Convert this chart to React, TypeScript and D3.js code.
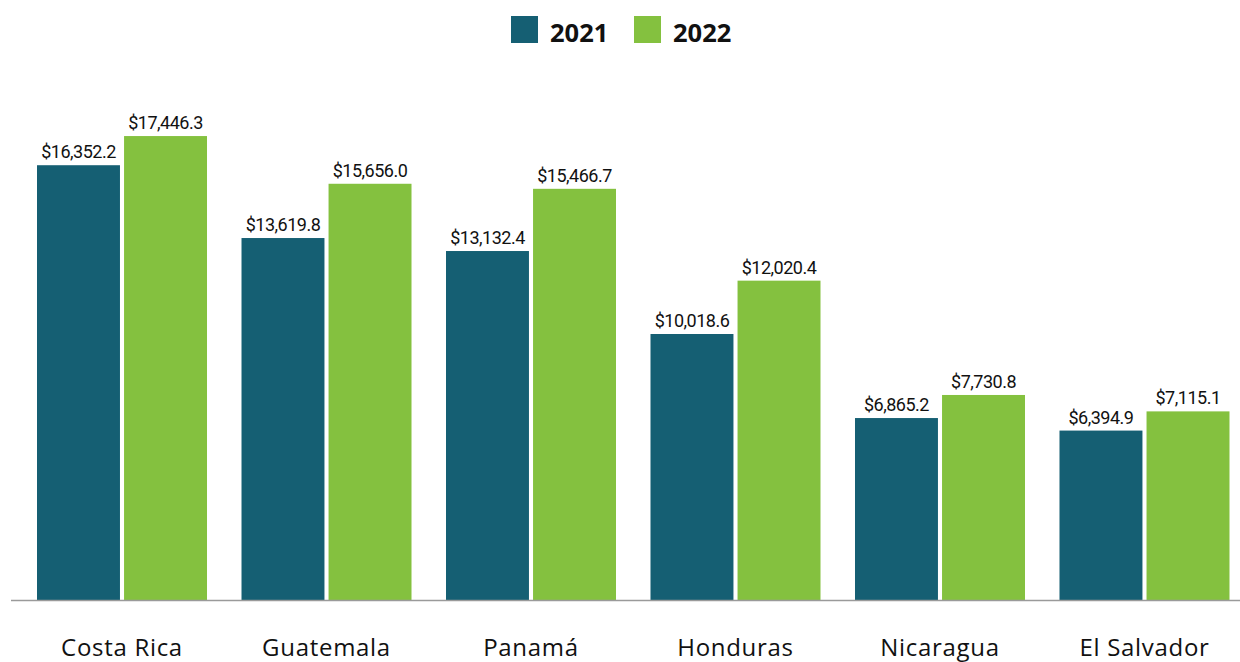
import React from "react";
import * as d3 from "d3";

const categories = ["Costa Rica", "Guatemala", "Panamá", "Honduras", "Nicaragua", "El Salvador"];
const seriesNames = ["2021", "2022"];
const values2021 = [16352.2, 13619.8, 13132.4, 10018.6, 6865.2, 6394.9];
const values2022 = [17446.3, 15656.0, 15466.7, 12020.4, 7730.8, 7115.1];
const colors = ["#155f73", "#84c13f"];

const W = 1240;
const H = 662;

export default function App() {
  const series = [values2021, values2022];
  const x0 = d3.scaleBand<string>().domain(categories).range([19.75, 1246.75]).paddingInner(0.1687).paddingOuter(0.0844);
  const x1 = d3.scaleBand<string>().domain(seriesNames).range([0, x0.bandwidth()]).paddingInner(0.047);
  const y = d3.scaleLinear().domain([0, 20000]).range([601, 68]);
  const fmt = (v: number) => "$" + d3.format(",.1f")(v);

  return (
    <svg width={W} height={H} style={{ position: "absolute", left: 0, top: 0, display: "block" }}>
      <rect x={0} y={0} width={W} height={H} fill="#fff" />
      <g>
        <rect x={511} y={16} width={27} height={27} fill={colors[0]} />
        <text x={550} y={42} fontFamily="'Open Sans', sans-serif" fontWeight={700} fontSize={25.5} fill="#111">{seriesNames[0]}</text>
        <rect x={634} y={16} width={27} height={27} fill={colors[1]} />
        <text x={673} y={42} fontFamily="'Open Sans', sans-serif" fontWeight={700} fontSize={25.5} fill="#111">{seriesNames[1]}</text>
      </g>
      {categories.map((c, i) => (
        <g key={c} transform={`translate(${x0(c)},0)`}>
          {seriesNames.map((s, j) => {
            const v = series[j][i];
            const bx = x1(s)!;
            return (
              <g key={s}>
                <rect x={bx} y={y(v)} width={x1.bandwidth()} height={y(0) - y(v)} fill={colors[j]} />
                <text x={bx + x1.bandwidth() / 2} y={y(v) - 7} textAnchor="middle" fontFamily="Roboto, sans-serif" fontSize={18} letterSpacing={-0.5} fill="#111">{fmt(v)}</text>
              </g>
            );
          })}
          <text x={x0.bandwidth() / 2} y={656} textAnchor="middle" fontFamily="'Open Sans', sans-serif" fontSize={24} fill="#111" letterSpacing={0.7}>{c}</text>
        </g>
      ))}
      <line x1={11} x2={1240} y1={600.5} y2={600.5} stroke="#9a9a9a" strokeWidth={1.5} />
    </svg>
  );
}
